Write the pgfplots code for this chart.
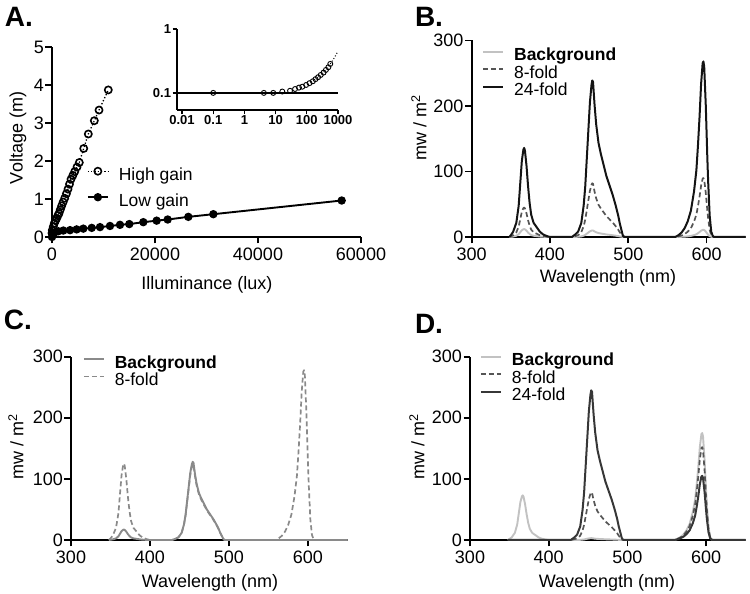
\documentclass[border=0pt]{standalone}
\usepackage{fontspec}
\setmainfont{Liberation Sans}
\usepackage{pgfplots}
\usepackage{pgfplotstable}
\pgfplotsset{compat=1.18}

\definecolor{bgL}{HTML}{C2C2C2}
\definecolor{dk}{HTML}{555555}
\definecolor{blk}{HTML}{141414}
\definecolor{midg}{HTML}{8A8A8A}

\pgfplotstableread{
nm bg f8 f24
348 0 0 0
350 0.24 0.9 2.72
353 0.72 2.7 8.16
357 1.92 7.2 21.76
360 4.2 15.75 47.6
362 7.2 27 81.6
364 10.2 38.25 115.6
366 11.76 44.1 133.28
367 12 45 136
368 11.64 43.65 131.92
370 9.6 36 108.8
372 6.84 25.65 77.52
374 4.56 17.1 51.68
376 3 11.25 34
379 1.92 7.2 21.76
383 1.32 4.95 14.96
387 0.72 2.7 8.16
391 0.36 1.35 4.08
396 0.12 0.45 1.36
400 0 0 0
428 0 0 0
432 0.15 1.23 3.59
436 0.35 2.87 8.37
440 0.9 7.38 21.51
443 2 16.4 47.8
445 3.2 26.24 76.48
447 5 41 119.5
449 6.8 55.76 162.52
451 8.6 70.52 205.54
453 9.7 79.54 231.83
454 10 82 239
455 9.9 81.18 236.61
457 8.4 68.88 200.76
459 7.2 59.04 172.08
462 6 49.2 143.4
465 5.3 43.46 126.67
468 4.7 38.54 112.33
472 3.9 31.98 93.21
476 3.3 27.06 78.87
480 2.7 22.14 64.53
484 2 16.4 47.8
487 1.4 11.48 33.46
489 0.9 7.38 21.51
491 0.5 4.1 11.95
493 0.1 0.82 2.39
495 0 0 0
560 0 0 0
564 0.11 0.9 2.68
568 0.28 2.25 6.7
572 0.55 4.5 13.4
576 0.99 8.1 24.12
580 1.65 13.5 40.2
584 2.86 23.4 69.68
587 4.18 34.2 101.84
589 5.72 46.8 139.36
591 7.48 61.2 182.24
593 9.57 78.3 233.16
595 10.89 89.1 265.32
596 11 90 268
597 10.67 87.3 259.96
599 8.25 67.5 201
601 4.95 40.5 120.6
602 3.52 28.8 85.76
604 1.32 10.8 32.16
606 0.33 2.7 8.04
608 0.06 0.45 1.34
610 0 0 0
650 0 0 0
}\tabB

\pgfplotstableread{
nm bg f8
348 0 0
350 0.34 2.5
353 1.02 7.5
357 2.72 20
360 5.95 43.75
362 10.2 75
364 14.45 106.25
366 16.66 122.5
367 17 125
368 16.49 121.25
370 13.6 100
372 9.69 71.25
374 6.46 47.5
376 4.25 31.25
379 2.72 20
383 1.87 13.75
387 1.02 7.5
391 0.51 3.75
396 0.17 1.25
400 0 0
428 0 0
432 1.92 1.86
436 4.48 4.34
440 11.52 11.16
443 25.6 24.8
445 40.96 39.68
447 64 62
449 87.04 84.32
451 110.08 106.64
453 124.16 120.28
454 128 124
455 126.72 122.76
457 107.52 104.16
459 92.16 89.28
462 76.8 74.4
465 67.84 65.72
468 60.16 58.28
472 49.92 48.36
476 42.24 40.92
480 34.56 33.48
484 25.6 24.8
487 17.92 17.36
489 11.52 11.16
491 6.4 6.2
493 1.28 1.24
495 0 0
560 0 0
563 0 2.78
567 0 6.95
571 0 13.9
575 0 25.02
579 0 41.7
583 0 72.28
586 0 105.64
588 0 144.56
590 0 189.04
592 0 241.86
594 0 275.22
595 0 278
596 0 269.66
598 0 208.5
600 0 125.1
601 0 88.96
603 0 33.36
605 0 8.34
607 0 1.39
609 0 0
650 0 0
}\tabC

\pgfplotstableread{
nm bg f8 f24
348 0 0 0
350 1.46 0 0
353 4.38 0 0
357 11.68 0 0
360 25.55 0 0
362 43.8 0 0
364 62.05 0 0
366 71.54 0 0
367 73 0 0
368 70.81 0 0
370 58.4 0 0
372 41.61 0 0
374 27.74 0 0
376 18.25 0 0
379 11.68 0 0
383 8.03 0 0
387 4.38 0 0
391 2.19 0 0
396 0.73 0 0
400 0 0 0
428 0 0 0
432 0.05 1.17 3.68
436 0.1 2.73 8.58
440 0.27 7.02 22.05
443 0.6 15.6 49
445 0.96 24.96 78.4
447 1.5 39 122.5
449 2.04 53.04 166.6
451 2.58 67.08 210.7
453 2.91 75.66 237.65
454 3 78 245
455 2.97 77.22 242.55
457 2.52 65.52 205.8
459 2.16 56.16 176.4
462 1.8 46.8 147
465 1.59 41.34 129.85
468 1.41 36.66 115.15
472 1.17 30.42 95.55
476 0.99 25.74 80.85
480 0.81 21.06 66.15
484 0.6 15.6 49
487 0.42 10.92 34.3
489 0.27 7.02 22.05
491 0.15 3.9 12.25
493 0.03 0.78 2.45
495 0 0 0
560 0 0 0
563 1.75 1.52 1.05
567 4.38 3.8 2.63
571 8.75 7.6 5.25
575 15.75 13.68 9.45
579 26.25 22.8 15.75
583 45.5 39.52 27.3
586 66.5 57.76 39.9
588 91 79.04 54.6
590 119 103.36 71.4
592 152.25 132.24 91.35
594 173.25 150.48 103.95
595 175 152 105
596 169.75 147.44 101.85
598 131.25 114 78.75
600 78.75 68.4 47.25
601 56 48.64 33.6
603 21 18.24 12.6
605 5.25 4.56 3.15
607 0.88 0.76 0.53
609 0 0 0
650 0 0 0
}\tabD

\pgfplotsset{
  prism/.style={
    scale only axis,
    axis lines=left,
    axis line style={-, line width=1.7pt, black},
    tick align=outside,
    major tick length=6.5pt,
    tick style={line width=1.7pt, black},
    tick label style={font=\fontsize{18}{19}\selectfont},
    /pgf/number format/assume math mode=true,
    xticklabel style={inner sep=1pt, yshift=-3pt},
    yticklabel style={inner sep=1.5pt},
    legend cell align=left,
    legend style={draw=none, fill=none, inner sep=0pt, outer sep=0pt,
      font=\fontsize{17.5}{17.5}\selectfont, row sep=0pt, column sep=10pt,
      nodes={inner sep=0pt, text height=12.8pt, text depth=4.7pt}},
    legend image code/.code={\draw[#1] (0pt,5pt) -- (20pt,5pt);},
  },
  spec/.style={prism, xmin=300, xmax=650, ymin=0, ymax=300,
    xtick={300,400,500,600}, ytick={0,100,200,300}, clip=false},
}

\begin{document}
\begin{tikzpicture}
\path[use as bounding box] (0pt,0pt) rectangle (750pt,594pt);

% ---------------- Panel A main ----------------
\begin{axis}[prism, at={(52pt,357pt)}, anchor=south west,
  width=309pt, height=190pt,
  xmin=0, xmax=60000, ymin=0, ymax=5,
  scaled x ticks=false,
  xtick={0,20000,40000,60000}, xticklabels={0,20000,40000,60000},
  ytick={0,1,2,3,4,5}, clip=false,
  legend style={at={(0.113,0.366)}, anchor=north west, row sep=8.5pt},
  legend image code/.code={\draw[mark repeat=2,mark phase=2,#1] plot coordinates {(0pt,5pt) (10pt,5pt) (20pt,5pt)};},
]
\addplot[black, line width=1.3pt, dotted, mark=o, mark size=3.6pt,
  mark options={solid, line width=1.6pt, fill=white}] coordinates {
(0,0.10) (60,0.18) (250,0.27) (450,0.36) (680,0.43) (910,0.49) (1130,0.56)
(1360,0.62) (1620,0.72) (1880,0.82) (2170,0.92) (2470,1.02) (2800,1.14)
(3110,1.26) (3400,1.39) (3690,1.52) (4050,1.62) (4410,1.72) (4850,1.84)
(5300,1.96) (6160,2.33) (7050,2.71) (8220,3.06) (9130,3.34) (10930,3.87)};
\addlegendentry{High gain}
\addplot[black, line width=1.9pt, mark=*, mark size=3.2pt] coordinates {
(0,0) (250,0.08) (580,0.13) (1230,0.15) (2200,0.17) (3500,0.18) (4790,0.20)
(6080,0.22) (7710,0.24) (9320,0.26) (11260,0.29) (13200,0.32) (15010,0.34)
(17730,0.39) (20320,0.43) (22460,0.46) (26470,0.53) (31330,0.60) (56250,0.96)};
\addlegendentry{Low gain}
\end{axis}

% ---------------- Panel A inset ----------------
\begin{axis}[scale only axis, at={(177pt,484pt)}, anchor=south west,
  width=161pt, height=81pt,
  xmode=log, ymode=log,
  xmin=0.0069, xmax=1000, ymin=0.054, ymax=1,
  axis lines=left,
  axis line style={-, line width=1.3pt, black},
  tick align=outside, major tick length=4.3pt,
  tick style={line width=1.3pt, black},
  xminorticks=false, yminorticks=false,
  xtick={0.01,0.1,1,10,100,1000}, xticklabels={0.01,0.1,1,10,100,1000},
  ytick={0.1,1}, yticklabels={0.1,1},
  tick label style={font=\fontsize{13}{13}\selectfont\bfseries},
  xticklabel style={inner sep=1pt},
  yticklabel style={inner sep=1.5pt},
  clip=false,
]
\addplot[black, line width=1.6pt] coordinates {(0.0069,0.1) (1000,0.1)};
\addplot[black, line width=1pt, dotted] coordinates {
(565,0.284) (700,0.33) (850,0.39) (980,0.44)};
\addplot[only marks, mark=o, mark size=2.5pt, mark options={line width=0.9pt, fill=white}] coordinates {
(0.1,0.1) (4.2,0.1) (8.4,0.1) (16.4,0.105) (29,0.108) (42,0.115) (56,0.121)
(72,0.125) (95,0.133) (122,0.142) (156,0.152) (190,0.164) (230,0.176)
(280,0.191) (345,0.208) (410,0.229) (490,0.252) (565,0.284)};
\end{axis}

% ---------------- Panel B ----------------
\begin{axis}[spec, at={(471.7pt,357pt)}, anchor=south west, width=274pt, height=196.5pt,
  legend style={at={(0.038,0.962)}, anchor=north west}]
\addplot[bgL, line width=1.9pt, line join=round] table[x=nm,y=bg]{\tabB};
\addlegendentry{\textbf{Background}}
\addplot[dk, line width=1.7pt, line join=round, dash pattern=on 5pt off 3pt] table[x=nm,y=f8]{\tabB};
\addlegendentry{8-fold}
\addplot[blk, line width=2pt, line join=round] table[x=nm,y=f24]{\tabB};
\addlegendentry{24-fold}
\end{axis}

% ---------------- Panel C ----------------
\begin{axis}[spec, at={(71pt,54pt)}, anchor=south west, width=276.5pt, height=183.3pt,
  legend style={at={(0.043,1.008)}, anchor=north west}]
\addplot[midg, line width=1.9pt, line join=round] table[x=nm,y=bg]{\tabC};
\addlegendentry{\textbf{Background}}
\addplot[midg, line width=1.7pt, line join=round, dash pattern=on 5pt off 3pt] table[x=nm,y=f8]{\tabC};
\addlegendentry{8-fold}
\end{axis}

% ---------------- Panel D ----------------
\begin{axis}[spec, at={(470pt,54pt)}, anchor=south west, width=275.5pt, height=183.3pt,
  legend style={at={(0.036,1.02)}, anchor=north west}]
\addplot[bgL, line width=1.9pt, line join=round] table[x=nm,y=bg]{\tabD};
\addlegendentry{\textbf{Background}}
\addplot[dk, line width=1.7pt, line join=round, dash pattern=on 5pt off 3pt] table[x=nm,y=f8]{\tabD};
\addlegendentry{8-fold}
\addplot[blk!85, line width=2pt, line join=round] table[x=nm,y=f24]{\tabD};
\addlegendentry{24-fold}
\end{axis}

% ---------------- labels ----------------
\tikzset{lab/.style={font=\fontsize{18}{20}\selectfont}, pl/.style={font=\fontsize{28}{28}\selectfont\bfseries}}
\node[lab] at (207pt,309pt) {Illuminance (lux)};
\node[lab, rotate=90] at (18pt,456pt) {Voltage (m)};
\node[lab] at (608pt,316pt) {Wavelength (nm)};
\node[lab, rotate=90] at (419pt,466pt) {mw / m\textsuperscript{2}};
\node[lab] at (210pt,11pt) {Wavelength (nm)};
\node[lab, rotate=90] at (16pt,147pt) {mw / m\textsuperscript{2}};
\node[lab] at (607pt,11pt) {Wavelength (nm)};
\node[lab, rotate=90] at (417pt,147pt) {mw / m\textsuperscript{2}};

\node[pl] at (19pt,577pt) {A.};
\node[pl] at (429pt,577pt) {B.};
\node[pl] at (18pt,274pt) {C.};
\node[pl] at (429pt,270pt) {D.};
\end{tikzpicture}
\end{document}
